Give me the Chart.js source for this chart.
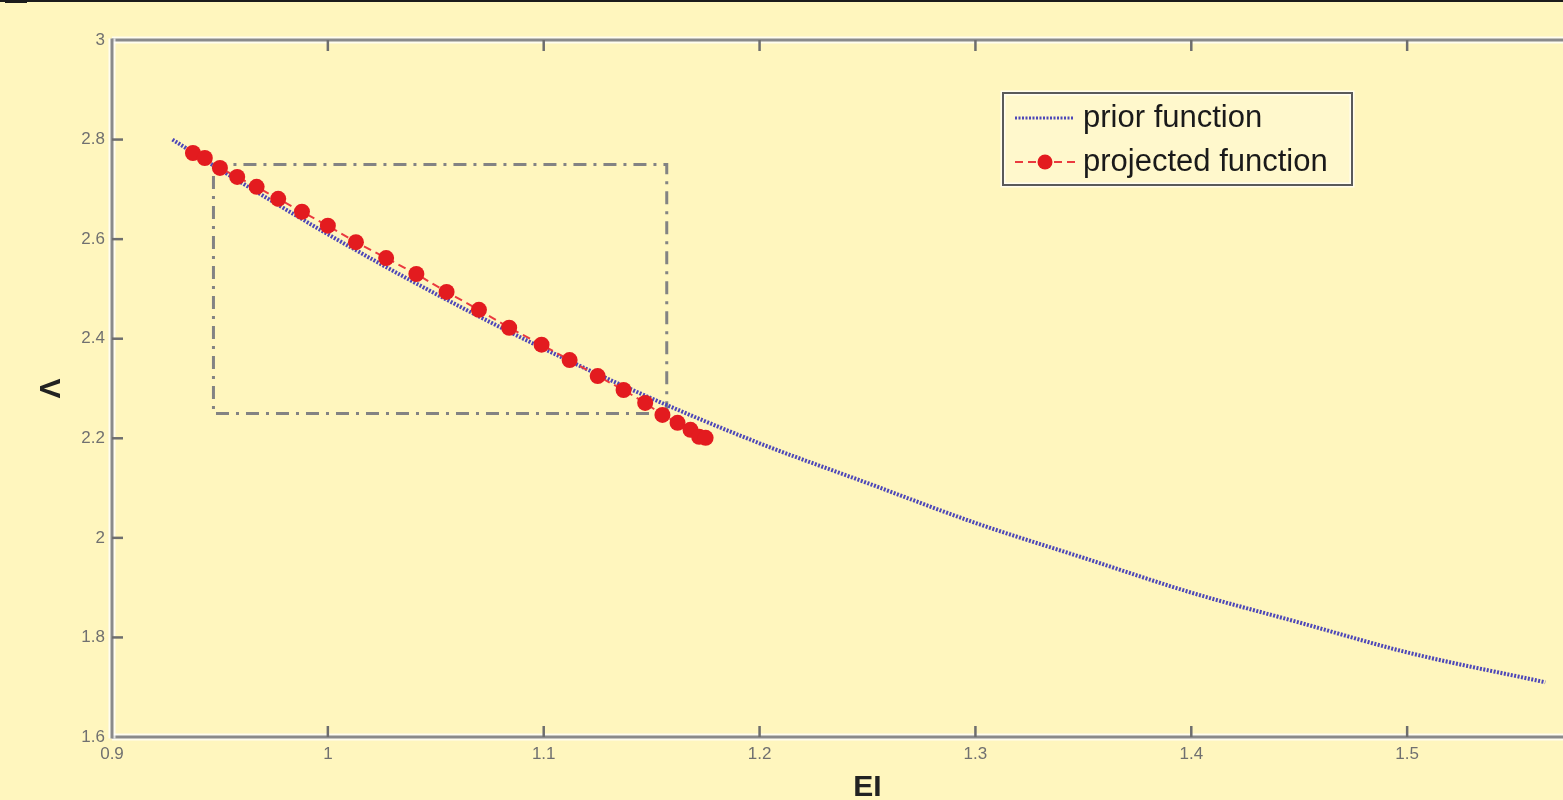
<!DOCTYPE html>
<html>
<head>
<meta charset="utf-8">
<title>prior vs projected function</title>
<script src="https://cdn.jsdelivr.net/npm/chart.js@4/dist/chart.umd.min.js"></script>
<style>
  html, body { margin: 0; padding: 0; background: #fff6be; overflow: hidden; }
  #wrap { position: relative; width: 1563px; height: 800px; overflow: hidden; }
  #topLine { position: absolute; left: 0; top: 0; width: 100%; height: 2px; background: #1c1c1c; }
  #topMark { position: absolute; left: 5px; top: 0; width: 22px; height: 3px; background: #1c1c1c; }
  canvas { display: block; }
</style>
</head>
<body>
<div id="wrap">
  <canvas id="chart" width="1640" height="800"></canvas>
  <div id="topLine"></div>
  <div id="topMark"></div>
</div>
<script>
// tick labels
const xTicks = [0.9, 1.0, 1.1, 1.2, 1.3, 1.4, 1.5];
const yTicks = [1.6, 1.8, 2.0, 2.2, 2.4, 2.6, 2.8, 3.0];

// prior function (blue dotted curve)
const priorEI = [0.928, 0.95, 1.0, 1.05, 1.1, 1.15, 1.2, 1.25, 1.3, 1.35, 1.4, 1.45, 1.5, 1.564];
const priorLambda = [2.80, 2.74, 2.61, 2.49, 2.38, 2.28, 2.19, 2.11, 2.03, 1.96, 1.89, 1.83, 1.77, 1.71];

// projected function (red dots)
const projEI = [0.9375, 0.943, 0.950, 0.958, 0.967, 0.977, 0.988, 1.000, 1.013, 1.027, 1.041, 1.055,
                1.070, 1.084, 1.099, 1.112, 1.125, 1.137, 1.147, 1.155, 1.162, 1.168, 1.172, 1.175];
const projLambda = [2.773, 2.763, 2.743, 2.725, 2.705, 2.681, 2.655, 2.627, 2.594, 2.562, 2.530, 2.494,
                    2.458, 2.422, 2.388, 2.357, 2.325, 2.297, 2.271, 2.247, 2.231, 2.217, 2.203, 2.201];

// dash-dot zoom box corners
const boxEI = [0.947, 1.157, 1.157, 0.947, 0.947];
const boxLambda = [2.75, 2.75, 2.25, 2.25, 2.75];

const toPoints = (xs, ys) => xs.map((x, i) => ({ x: x, y: ys[i] }));

const BLUE = "#4d47b8";
const RED = "#e31b1f";
const AXIS = "#8a8a8a";
const tickFont = { family: "'Liberation Sans', Arial, sans-serif", size: 17 };
const titleFont = { family: "'Liberation Sans', Arial, sans-serif", size: 30, weight: "bold", lineHeight: 0.8 };

// axes frame with inward ticks, matlab style
const framePlugin = {
  id: "frame",
  afterDatasetsDraw(chart) {
    const ctx = chart.ctx;
    const { left, right, top, bottom } = chart.chartArea;
    const xs = chart.scales.x, ys = chart.scales.y;
    ctx.save();
    ctx.lineCap = "butt";
    const seg = (x1, y1, x2, y2, w) => {
      ctx.lineWidth = w + 4;
      ctx.strokeStyle = "rgba(255,255,255,0.75)";
      ctx.beginPath(); ctx.moveTo(x1, y1); ctx.lineTo(x2, y2); ctx.stroke();
      ctx.lineWidth = w;
      ctx.strokeStyle = AXIS;
      ctx.beginPath(); ctx.moveTo(x1, y1); ctx.lineTo(x2, y2); ctx.stroke();
    };
    seg(left, top, right, top, 3);
    seg(left, bottom, right, bottom, 3);
    seg(left, top - 1.5, left, bottom + 1.5, 3);
    seg(right, top - 1.5, right, bottom + 1.5, 3);
    ctx.lineWidth = 2.5;
    ctx.strokeStyle = "#6e6e6e";
    xTicks.slice(1).forEach(v => {
      const px = xs.getPixelForValue(v);
      ctx.beginPath(); ctx.moveTo(px, bottom); ctx.lineTo(px, bottom - 11); ctx.stroke();
      ctx.beginPath(); ctx.moveTo(px, top); ctx.lineTo(px, top + 11); ctx.stroke();
    });
    yTicks.slice(1, -1).forEach(v => {
      const py = ys.getPixelForValue(v);
      ctx.beginPath(); ctx.moveTo(left, py); ctx.lineTo(left + 11, py); ctx.stroke();
    });
    ctx.restore();
  }
};

// legend box inside the axes
const legendPlugin = {
  id: "boxLegend",
  afterDraw(chart) {
    const ctx = chart.ctx;
    const bx = 1003, by = 93, bw = 349, bh = 92;
    ctx.save();
    ctx.fillStyle = "#fff8cc";
    ctx.fillRect(bx, by, bw, bh);
    ctx.lineWidth = 5;
    ctx.strokeStyle = "rgba(255,255,255,0.7)";
    ctx.strokeRect(bx, by, bw, bh);
    ctx.lineWidth = 2;
    ctx.strokeStyle = "#5a5a5a";
    ctx.strokeRect(bx, by, bw, bh);

    const prior = chart.data.datasets[1];
    const proj = chart.data.datasets[0];
    const y1 = by + 25, y2 = by + 69;

    ctx.setLineDash(prior.borderDash);
    ctx.strokeStyle = prior.borderColor;
    ctx.lineWidth = 3;
    ctx.beginPath(); ctx.moveTo(bx + 12, y1); ctx.lineTo(bx + 70, y1); ctx.stroke();

    ctx.setLineDash(proj.borderDash);
    ctx.strokeStyle = proj.borderColor;
    ctx.lineWidth = 2;
    ctx.beginPath(); ctx.moveTo(bx + 12, y2); ctx.lineTo(bx + 72, y2); ctx.stroke();
    ctx.setLineDash([]);
    ctx.fillStyle = proj.pointBackgroundColor;
    ctx.beginPath(); ctx.arc(bx + 42, y2, 7.5, 0, Math.PI * 2); ctx.fill();

    ctx.fillStyle = "#1a1a1a";
    ctx.font = "31px 'Liberation Sans', Arial, sans-serif";
    ctx.textBaseline = "middle";
    ctx.fillText(prior.label, bx + 80, y1);
    ctx.fillText(proj.label, bx + 80, y2);
    ctx.restore();
  }
};

const ctx = document.getElementById("chart").getContext("2d");
new Chart(ctx, {
  type: "scatter",
  data: {
    datasets: [
      {
        label: "projected function",
        data: toPoints(projEI, projLambda),
        showLine: true,
        borderColor: "#ea3a3f",
        borderDash: [8, 5],
        borderWidth: 2,
        pointRadius: 8,
        pointBackgroundColor: RED,
        pointBorderColor: RED,
        pointBorderWidth: 0,
        order: 0,
      },
      {
        label: "prior function",
        data: toPoints(priorEI, priorLambda),
        showLine: true,
        borderColor: BLUE,
        borderDash: [2, 1.5],
        borderWidth: 4,
        pointRadius: 0,
        cubicInterpolationMode: "monotone",
        order: 1,
      },
      {
        label: "zoom box",
        data: toPoints(boxEI, boxLambda),
        showLine: true,
        borderColor: "#838383",
        borderDash: [13, 7, 3, 7],
        borderWidth: 3,
        pointRadius: 0,
        order: 2,
      },
    ],
  },
  options: {
    responsive: false,
    animation: false,
    layout: { padding: { top: 40, left: 0, right: 17, bottom: 0 } },
    plugins: {
      legend: { display: false },
      tooltip: { enabled: false },
    },
    scales: {
      x: {
        type: "linear",
        min: 0.9,
        max: 1.6,
        grid: { display: false, drawTicks: false },
        border: { display: false },
        afterBuildTicks: (s) => { s.ticks = xTicks.map(v => ({ value: v })); },
        afterFit: (s) => { s.height = 63; },
        ticks: {
          padding: 7,
          maxRotation: 0,
          color: "#707070",
          font: tickFont,
          callback: (v) => String(+Number(v).toFixed(2)),
        },
        title: {
          display: true,
          text: "EI",
          color: "#222",
          font: titleFont,
          padding: { top: 4, bottom: 0 },
        },
      },
      y: {
        type: "linear",
        min: 1.6,
        max: 3,
        grid: { display: false, drawTicks: false },
        border: { display: false },
        afterBuildTicks: (s) => { s.ticks = yTicks.map(v => ({ value: v })); },
        afterFit: (s) => { s.width = 112; },
        ticks: {
          padding: 7,
          color: "#707070",
          font: tickFont,
          callback: (v) => String(+Number(v).toFixed(2)),
        },
        title: {
          display: true,
          text: "Λ",
          color: "#222",
          font: titleFont,
          padding: { top: 40, bottom: 0 },
        },
      },
    },
  },
  plugins: [framePlugin, legendPlugin],
});
</script>
</body>
</html>
